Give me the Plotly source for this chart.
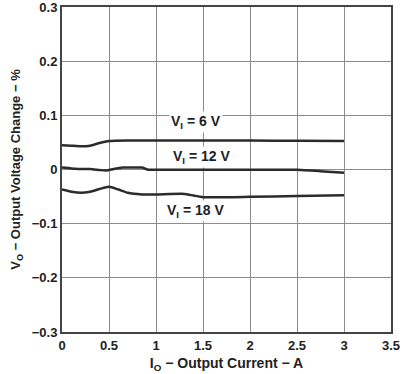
import plotly.graph_objects as go

# Data
x_6v = [0, 0.1, 0.2, 0.3, 0.4, 0.5, 0.7, 1.0, 1.5, 2.0, 2.5, 3.0]
y_6v = [0.045, 0.044, 0.043, 0.044, 0.049, 0.0525, 0.0535, 0.0535, 0.0535, 0.0535, 0.053, 0.0525]

x_12v = [0, 0.1, 0.2, 0.3, 0.4, 0.47, 0.55, 0.65, 0.75, 0.85, 0.92, 1.0, 1.5, 2.0, 2.5, 2.75, 3.0]
y_12v = [0.0035, 0.002, 0.001, 0.001, -0.001, -0.002, 0.001, 0.0035, 0.0035, 0.0035, -0.0005, -0.0005, -0.0005, -0.0005, -0.0005, -0.003, -0.006]

x_18v = [0, 0.1, 0.2, 0.3, 0.4, 0.5, 0.6, 0.7, 0.85, 1.0, 1.3, 1.4, 1.5, 2.0, 2.5, 3.0]
y_18v = [-0.037, -0.041, -0.043, -0.041, -0.036, -0.032, -0.037, -0.043, -0.046, -0.046, -0.045, -0.048, -0.051, -0.0505, -0.049, -0.0476]

labels = ["V<sub>I</sub> = 6 V", "V<sub>I</sub> = 12 V", "V<sub>I</sub> = 18 V"]
label_x = [1.43, 1.48, 1.42]
label_y = [0.088, 0.023, -0.077]

x_ticks = [0, 0.5, 1, 1.5, 2, 2.5, 3, 3.5]
y_ticks = [-0.3, -0.2, -0.1, 0, 0.1, 0.2, 0.3]

FONT = "Arial, Liberation Sans, sans-serif"
line_style = dict(color="#2b2b2b", width=2.5, shape="spline", smoothing=0.5)

fig = go.Figure()
for xs, ys in [(x_6v, y_6v), (x_12v, y_12v), (x_18v, y_18v)]:
    fig.add_trace(go.Scatter(x=xs, y=ys, mode="lines", line=line_style,
                             showlegend=False, hoverinfo="skip"))

for t, lx, ly in zip(labels, label_x, label_y):
    fig.add_annotation(x=lx, y=ly, text=t, showarrow=False,
                       font=dict(family=FONT, size=14, color="#222", weight="bold"),
                       bgcolor="white", borderpad=1)

fig.update_layout(
    width=403, height=374,
    margin=dict(l=62, r=12, t=7, b=42),
    paper_bgcolor="white", plot_bgcolor="white",
    font=dict(family=FONT, color="#222"),
)
fig.update_xaxes(range=[0, 3.5], tickvals=x_ticks, showgrid=True, gridcolor="#8c8c8c",
                 gridwidth=1, zeroline=False, showline=True, linecolor="#444",
                 linewidth=2, mirror=True, ticks="", automargin=False,
                 ticklabeloverflow="allow",
                 tickfont=dict(family=FONT, size=13, color="#222", weight="bold"),
                 title=dict(text="I<sub>O</sub> − Output Current − A", standoff=7,
                            font=dict(family=FONT, size=14, color="#222", weight="bold")))
fig.update_yaxes(range=[-0.3, 0.3], tickvals=y_ticks, showgrid=True, gridcolor="#8c8c8c",
                 gridwidth=1, zeroline=False, showline=True, linecolor="#444",
                 linewidth=2, mirror=True, ticks="", automargin=False,
                 ticklabeloverflow="allow",
                 tickfont=dict(family=FONT, size=13, color="#222", weight="bold"),
                 title=dict(text="V<sub>O</sub> − Output Voltage Change − %", standoff=8,
                            font=dict(family=FONT, size=13, color="#222", weight="bold")))

fig.write_html("out.html", config={"displayModeBar": False},
               post_script="document.body.style.margin='0';document.body.style.overflow='hidden';")
